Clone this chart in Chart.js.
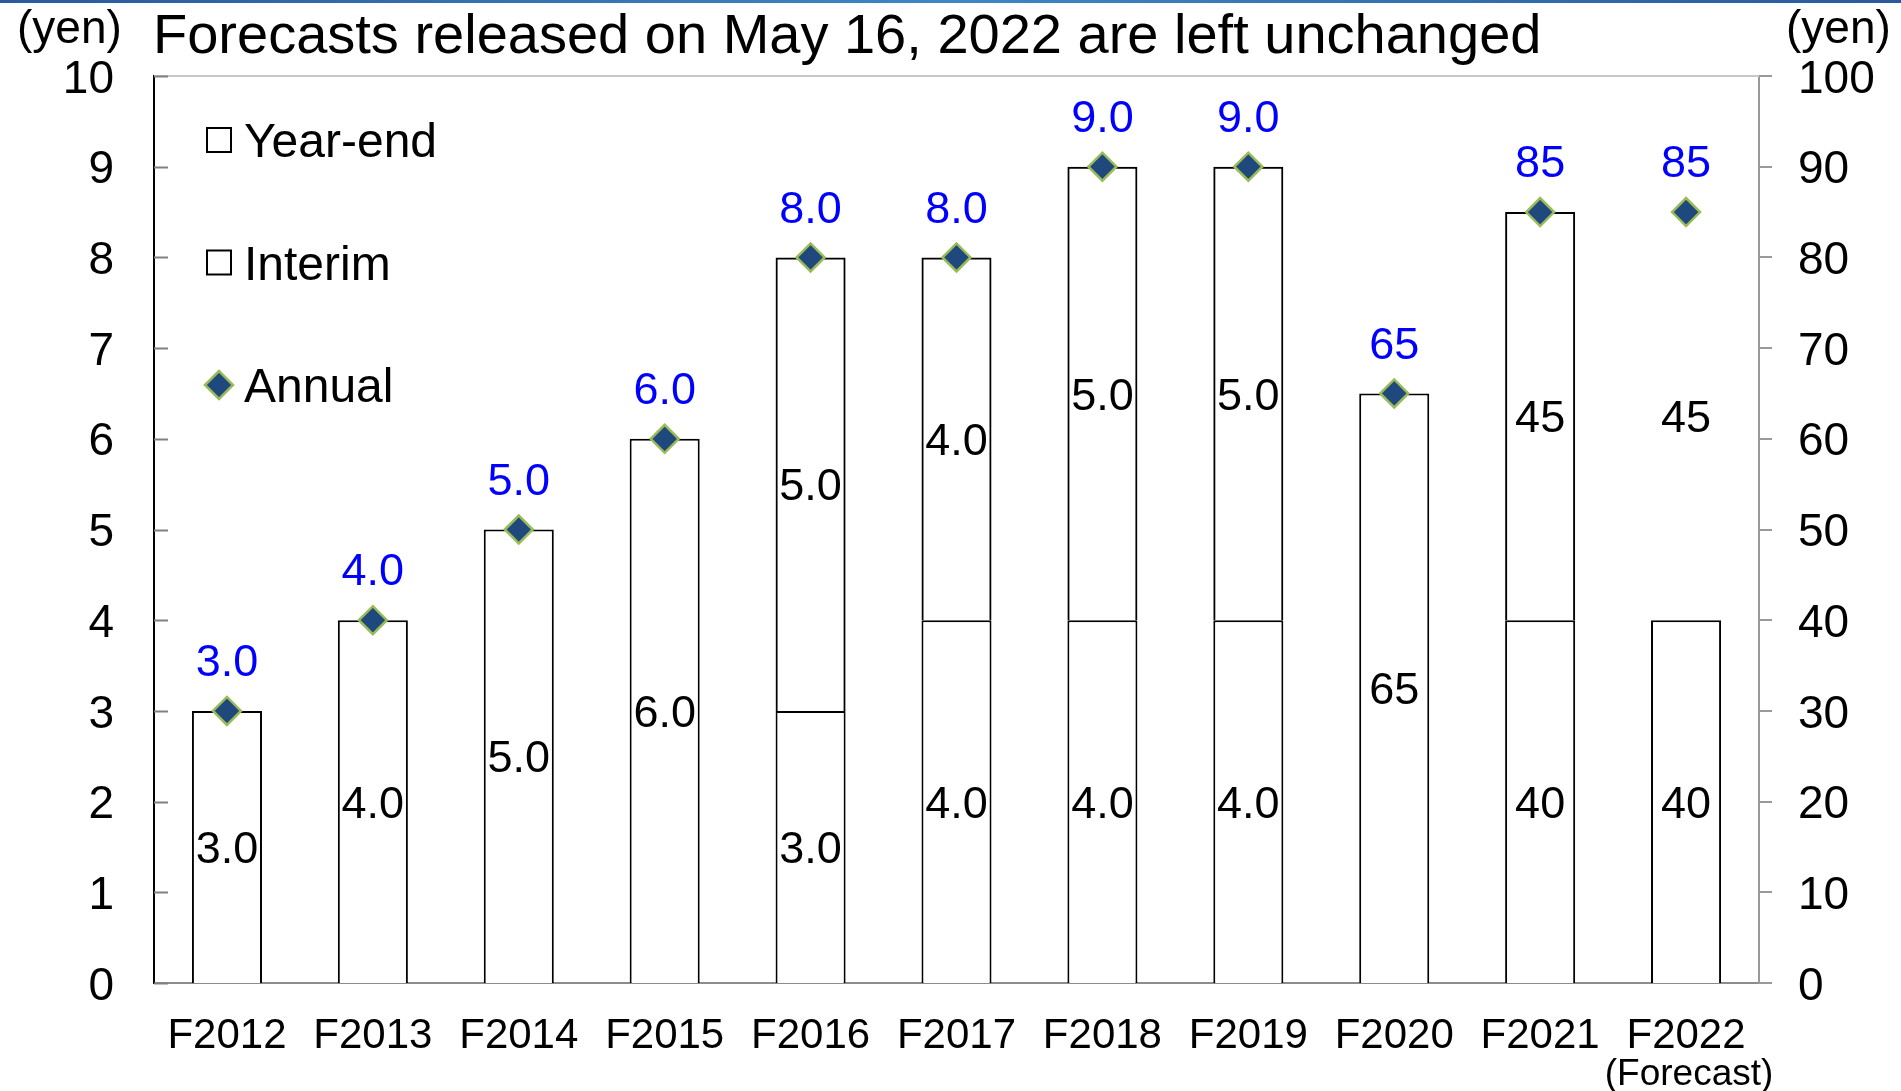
<!DOCTYPE html>
<html>
<head>
<meta charset="utf-8">
<script src="https://cdn.jsdelivr.net/npm/chart.js@4.4.1/dist/chart.umd.min.js"></script>
<style>
  html, body { margin: 0; padding: 0; background: #fff; }
  canvas { display: block; }
</style>
</head>
<body>
<canvas id="myChart" width="1901" height="1091"></canvas>
<script>
const categories = ['F2012', 'F2013', 'F2014', 'F2015', 'F2016', 'F2017', 'F2018', 'F2019', 'F2020', 'F2021', 'F2022']
const notes = ['', '', '', '', '', '', '', '', '', '', '(Forecast)']
// dividends per share in yen, as published
const interim = [3.0, 4.0, 5.0, 6.0, 3.0, 4.0, 4.0, 4.0, 65, 40, 40]
const yearEnd = [null, null, null, null, 5.0, 4.0, 5.0, 5.0, null, 45, 45]
const annual = [3.0, 4.0, 5.0, 6.0, 8.0, 8.0, 9.0, 9.0, 65, 85, 85]
// from F2020 the values are read on the right axis (10x the left one)
const axisUnit = [1, 1, 1, 1, 1, 1, 1, 1, 10, 10, 10]
const isForecast = [false, false, false, false, false, false, false, false, false, false, true]
const leftMax = 10
const rightMax = 100

const FONT = "'Liberation Sans', Arial, sans-serif"

const toLeft = arr => arr.map((v, i) => v == null ? null : v / axisUnit[i])
const fmt = (v, i) => axisUnit[i] === 1 ? v.toFixed(1) : String(v)

const overlay = {
    id: 'overlay',
    beforeDraw(chart) {
        const ctx = chart.ctx
        const g = ctx.createLinearGradient(0, 0, chart.width, 0)
        g.addColorStop(0, '#2a5a9a')
        g.addColorStop(0.5, '#3f86c4')
        g.addColorStop(1, '#2a5a9a')
        ctx.save()
        ctx.fillStyle = g
        ctx.fillRect(0, 0, chart.width, 3)
        ctx.restore()
    },
    afterDraw(chart) {
        const ctx = chart.ctx
        const area = chart.chartArea
        const y = chart.scales.y
        const x = chart.scales.x
        ctx.save()

        // top frame line
        ctx.strokeStyle = '#c8c8c8'
        ctx.lineWidth = 2
        ctx.beginPath()
        ctx.moveTo(area.left, area.top)
        ctx.lineTo(area.right, area.top)
        ctx.stroke()

        // inward ticks on the left axis
        ctx.strokeStyle = '#808080'
        y.ticks.forEach(t => {
            const py = Math.round(y.getPixelForValue(t.value)) + 0.5
            ctx.beginPath()
            ctx.moveTo(area.left, py)
            ctx.lineTo(area.left + 14, py)
            ctx.stroke()
        })

        // values inside the bars
        ctx.fillStyle = '#000'
        ctx.font = '45px ' + FONT
        ctx.textAlign = 'center'
        ctx.textBaseline = 'alphabetic'
        ;[0, 1].forEach(di => {
            const meta = chart.getDatasetMeta(di)
            const raw = di === 0 ? interim : yearEnd
            meta.data.forEach((el, i) => {
                if (raw[i] == null) return
                const cy = (el.y + el.base) / 2
                ctx.fillText(fmt(raw[i], i), el.x, cy + 45 * 0.358)
            })
        })

        // annual values above the markers
        ctx.fillStyle = '#0000ff'
        chart.getDatasetMeta(2).data.forEach((el, i) => {
            ctx.fillText(fmt(annual[i], i), el.x, el.y - 51 + 45 * 0.358)
        })

        // notes under the category labels
        ctx.fillStyle = '#000'
        ctx.font = '37px ' + FONT
        notes.forEach((n, i) => {
            if (!n) return
            ctx.fillText(n, x.getPixelForValue(i) + 3, 1072 + 37 * 0.358)
        })

        // title and axis units
        ctx.font = '46px ' + FONT
        ctx.textAlign = 'left'
        ctx.fillText('(yen)', 17, 27 + 46 * 0.358)
        ctx.fillText('(yen)', 1786, 27 + 46 * 0.358)
        ctx.font = '56px ' + FONT
        ctx.fillText('Forecasts released on May 16, 2022 are left unchanged', 153, 33 + 56 * 0.358)

        // legend inside the plot area
        const items = [chart.data.datasets[1], chart.data.datasets[0], chart.data.datasets[2]]
        const lx = area.left + 65
        ctx.font = '48px ' + FONT
        items.forEach((ds, k) => {
            const ly = area.top + 64 + k * 122.5
            if (ds.type === 'line') {
                const r = ds.pointRadius
                ctx.fillStyle = ds.pointBackgroundColor
                ctx.strokeStyle = ds.pointBorderColor
                ctx.lineWidth = ds.pointBorderWidth
                ctx.beginPath()
                ctx.moveTo(lx - r, ly)
                ctx.lineTo(lx, ly - r)
                ctx.lineTo(lx + r, ly)
                ctx.lineTo(lx, ly + r)
                ctx.closePath()
                ctx.fill()
                ctx.stroke()
            } else {
                ctx.fillStyle = '#fff'
                ctx.strokeStyle = '#000'
                ctx.lineWidth = 2
                ctx.fillRect(lx - 12, ly - 12, 24, 24)
                ctx.strokeRect(lx - 12, ly - 12, 24, 24)
            }
            ctx.fillStyle = '#000'
            ctx.fillText(ds.label, lx + 25, ly + 48 * 0.358)
        })
        ctx.restore()
    }
}

const ctx = document.getElementById('myChart').getContext('2d')
const myChart = new Chart(ctx, {
    type: 'bar',
    data: {
        labels: categories,
        datasets: [{
            label: 'Interim',
            data: toLeft(interim),
            backgroundColor: '#fff',
            borderColor: '#000',
            borderWidth: 2,
            stack: 'div',
            order: 2
        }, {
            label: 'Year-end',
            data: toLeft(yearEnd),
            backgroundColor: 'rgba(255,255,255,0)',
            borderColor: isForecast.map(f => f ? 'rgba(0,0,0,0)' : '#000'),
            borderWidth: 2,
            stack: 'div',
            order: 2
        }, {
            type: 'line',
            label: 'Annual',
            data: toLeft(annual),
            showLine: false,
            pointStyle: 'rectRot',
            pointRadius: 14,
            pointHoverRadius: 14,
            pointBackgroundColor: '#1f497d',
            pointBorderColor: '#9bbb59',
            pointBorderWidth: 2.5,
            order: 0
        }]
    },
    plugins: [overlay],
    options: {
        responsive: false,
        animation: false,
        devicePixelRatio: 1,
        layout: { padding: { top: 76, left: 0, right: 0, bottom: 0 } },
        datasets: {
            bar: { categoryPercentage: 1, barPercentage: 0.48 }
        },
        plugins: {
            legend: { display: false },
            title: { display: false },
            tooltip: { enabled: false }
        },
        scales: {
            x: {
                stacked: true,
                grid: { display: false, drawTicks: false },
                border: { color: '#8c8c8c', width: 2 },
                ticks: { color: '#000', font: { family: FONT, size: 42 }, padding: 28, maxRotation: 0, autoSkip: false },
                afterFit: s => { s.height = 108 }
            },
            y: {
                stacked: true,
                min: 0,
                max: leftMax,
                grid: { display: false, drawTicks: false },
                border: { color: '#000', width: 2 },
                ticks: { stepSize: 1, color: '#000', font: { family: FONT, size: 46 }, padding: 40, labelOffset: 4 },
                afterFit: s => { s.width = 154 }
            },
            y2: {
                position: 'right',
                min: 0,
                max: rightMax,
                grid: { display: true, drawOnChartArea: false, tickLength: 13, color: '#999', lineWidth: 2 },
                border: { color: '#999', width: 2 },
                ticks: { stepSize: 10, color: '#000', font: { family: FONT, size: 46 }, padding: 26, labelOffset: 4 },
                afterFit: s => { s.width = 142 }
            }
        }
    }
})
</script>
</body>
</html>
